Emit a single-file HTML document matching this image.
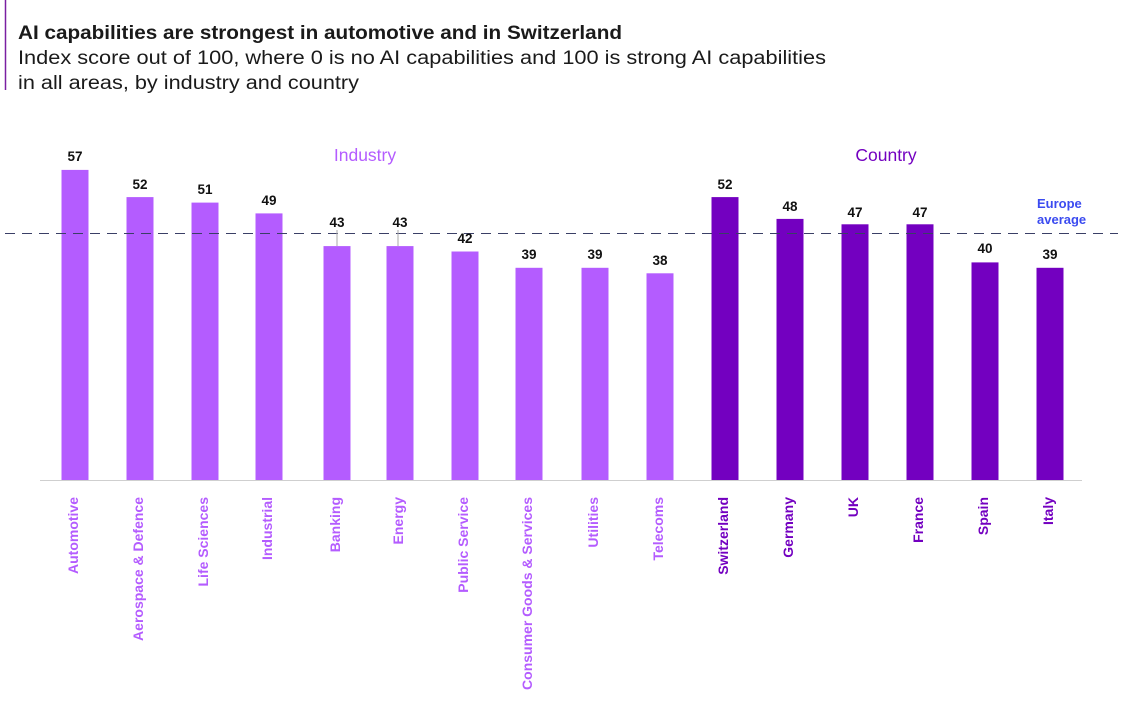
<!DOCTYPE html>
<html><head><meta charset="utf-8"><style>
body{margin:0;background:#fff;}
svg{display:block;font-family:"Liberation Sans",sans-serif;}
</style></head><body>
<svg width="1132" height="702" viewBox="0 0 1132 702">
<rect width="1132" height="702" fill="#fff"/>
<line x1="5.5" y1="0" x2="5.5" y2="90" stroke="#7a1fa2" stroke-width="1.5"/>
<text x="18" y="39" font-size="19" font-weight="bold" fill="#1a1a1a" textLength="604" lengthAdjust="spacingAndGlyphs">AI capabilities are strongest in automotive and in Switzerland</text>
<text x="18" y="64" font-size="19" fill="#1a1a1a" textLength="808" lengthAdjust="spacingAndGlyphs">Index score out of 100, where 0 is no AI capabilities and 100 is strong AI capabilities</text>
<text x="18" y="89" font-size="19" fill="#1a1a1a" textLength="341" lengthAdjust="spacingAndGlyphs">in all areas, by industry and country</text>
<text x="365" y="161" font-size="17.5" fill="#b45cff" text-anchor="middle">Industry</text>
<text x="886" y="161" font-size="17.5" fill="#7300c0" text-anchor="middle">Country</text>
<text x="1037" y="208" font-size="13" font-weight="bold" fill="#3b4bf0">Europe</text>
<text x="1037" y="224" font-size="13" font-weight="bold" fill="#3b4bf0">average</text>
<line x1="40" y1="480.5" x2="1082" y2="480.5" stroke="#cfcfcf" stroke-width="1"/>
<g fill="#b45cff">
<rect x="61.5" y="169.9" width="27" height="310.1"/>
<rect x="126.5" y="197.1" width="27" height="282.9"/>
<rect x="191.5" y="202.6" width="27" height="277.4"/>
<rect x="255.5" y="213.4" width="27" height="266.6"/>
<rect x="323.5" y="246.1" width="27" height="233.9"/>
<rect x="386.5" y="246.1" width="27" height="233.9"/>
<rect x="451.5" y="251.5" width="27" height="228.5"/>
<rect x="515.5" y="267.8" width="27" height="212.2"/>
<rect x="581.5" y="267.8" width="27" height="212.2"/>
<rect x="646.5" y="273.3" width="27" height="206.7"/>
</g>
<g fill="#7300c0">
<rect x="711.5" y="197.1" width="27" height="282.9"/>
<rect x="776.5" y="218.9" width="27" height="261.1"/>
<rect x="841.5" y="224.3" width="27" height="255.7"/>
<rect x="906.5" y="224.3" width="27" height="255.7"/>
<rect x="971.5" y="262.4" width="27" height="217.6"/>
<rect x="1036.5" y="267.8" width="27" height="212.2"/>
</g>
<line x1="5" y1="233.5" x2="1118" y2="233.5" stroke="#3a3f66" stroke-width="1" stroke-dasharray="10,7"/>
<line x1="337" y1="230" x2="337" y2="246" stroke="#aaa"/>
<line x1="398" y1="230" x2="398" y2="246" stroke="#aaa"/>
<g font-size="13.5" font-weight="bold" fill="#111" text-anchor="middle">
<text x="75" y="161">57</text>
<text x="140" y="189">52</text>
<text x="205" y="194">51</text>
<text x="269" y="205">49</text>
<text x="337" y="227">43</text>
<text x="400" y="227">43</text>
<text x="465" y="243">42</text>
<text x="529" y="259">39</text>
<text x="595" y="259">39</text>
<text x="660" y="265">38</text>
<text x="725" y="189">52</text>
<text x="790" y="211">48</text>
<text x="855" y="217">47</text>
<text x="920" y="217">47</text>
<text x="985" y="253">40</text>
<text x="1050" y="259">39</text>
</g>
<g font-size="14" font-weight="bold" fill="#b45cff" text-anchor="end">
<text transform="translate(78,497) rotate(-90)">Automotive</text>
<text transform="translate(143,497) rotate(-90)">Aerospace &amp; Defence</text>
<text transform="translate(208,497) rotate(-90)">Life Sciences</text>
<text transform="translate(272,497) rotate(-90)">Industrial</text>
<text transform="translate(340,497) rotate(-90)">Banking</text>
<text transform="translate(403,497) rotate(-90)">Energy</text>
<text transform="translate(468,497) rotate(-90)">Public Service</text>
<text transform="translate(532,497) rotate(-90)">Consumer Goods &amp; Services</text>
<text transform="translate(598,497) rotate(-90)">Utilities</text>
<text transform="translate(663,497) rotate(-90)">Telecoms</text>
</g>
<g font-size="14" font-weight="bold" fill="#7300c0" text-anchor="end">
<text transform="translate(728,497) rotate(-90)">Switzerland</text>
<text transform="translate(793,497) rotate(-90)">Germany</text>
<text transform="translate(858,497) rotate(-90)">UK</text>
<text transform="translate(923,497) rotate(-90)">France</text>
<text transform="translate(988,497) rotate(-90)">Spain</text>
<text transform="translate(1053,497) rotate(-90)">Italy</text>
</g>
</svg>
</body></html>
